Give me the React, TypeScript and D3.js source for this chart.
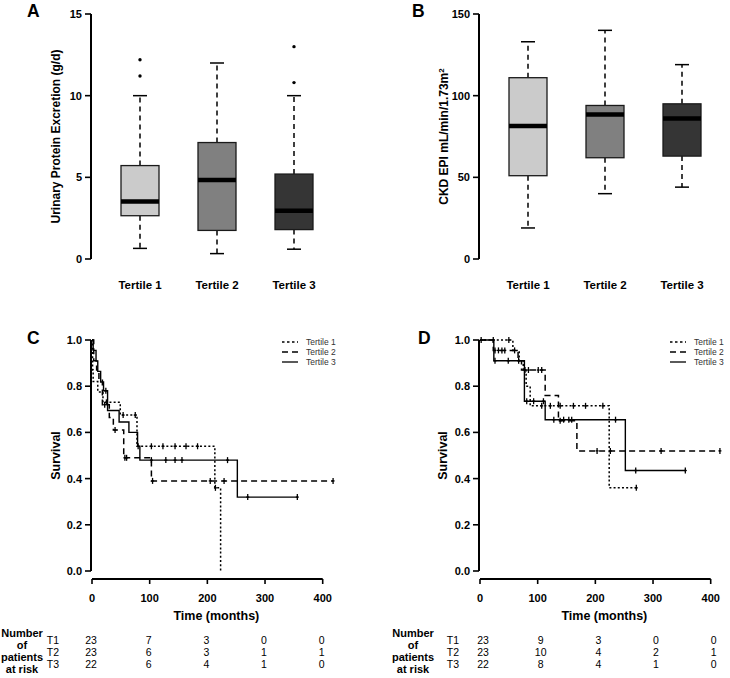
import React from "react";
import * as d3 from "d3";

// ---------- Box plot data ----------
const tertiles = ["Tertile 1", "Tertile 2", "Tertile 3"];
const boxFills = ["#cbcbcb", "#808080", "#353535"];

const upeLow = [0.65, 0.33, 0.6];
const upeQ1 = [2.65, 1.75, 1.8];
const upeMedian = [3.52, 4.84, 2.95];
const upeQ3 = [5.72, 7.13, 5.2];
const upeHigh = [10, 12, 10];
const upeOutliers = [[11.2, 12.2], [], [10.8, 13]];
const upeTicks = [0, 5, 10, 15];

const egfrLow = [19, 40, 44];
const egfrQ1 = [51, 62, 63];
const egfrMedian = [81.5, 88.5, 86];
const egfrQ3 = [111, 94, 95];
const egfrHigh = [133, 140, 119];
const egfrOutliers = [[], [], []];
const egfrTicks = [0, 50, 100, 150];

// ---------- Kaplan-Meier data ----------
const timeTicks = [0, 100, 200, 300, 400];
const survTicks = [0, 0.2, 0.4, 0.6, 0.8, 1.0];
const legendLabels = ["Tertile 1", "Tertile 2", "Tertile 3"];

const kmC_T1_times = [0, 1, 2, 10, 19, 49, 78, 213, 223];
const kmC_T1_surv = [1, 0.87, 0.82, 0.775, 0.73, 0.675, 0.54, 0.36, 0.0];
const kmC_T1_end = 223;
const kmC_T1_censor = [25, 54, 75, 80, 103, 123, 144, 163, 183, 214];

const kmC_T2_times = [0, 3, 8, 12, 18, 30, 37, 55, 103];
const kmC_T2_surv = [1, 0.91, 0.87, 0.83, 0.72, 0.665, 0.61, 0.49, 0.39];
const kmC_T2_end = 418;
const kmC_T2_censor = [22, 40, 57, 60, 105, 205, 229, 418];

const kmC_T3_times = [0, 2, 7, 10, 15, 20, 27, 47, 64, 79, 83, 252];
const kmC_T3_surv = [1, 0.955, 0.909, 0.864, 0.818, 0.78, 0.695, 0.645, 0.6, 0.54, 0.48, 0.32];
const kmC_T3_end = 356;
const kmC_T3_censor = [24, 103, 128, 144, 156, 235, 270, 356];

const kmD_T1_times = [0, 57, 68, 75, 80, 87, 224];
const kmD_T1_surv = [1, 0.955, 0.91, 0.87, 0.8, 0.715, 0.36];
const kmD_T1_end = 272;
const kmD_T1_censor = [50, 60, 107, 122, 139, 162, 183, 213, 271];

const kmD_T2_times = [0, 23, 66, 72, 113, 136, 168];
const kmD_T2_surv = [1, 0.955, 0.91, 0.87, 0.76, 0.65, 0.52];
const kmD_T2_end = 416;
const kmD_T2_censor = [26, 32, 38, 43, 78, 84, 101, 107, 139, 203, 226, 314, 416];

const kmD_T3_times = [0, 24, 77, 113, 252];
const kmD_T3_surv = [1, 0.91, 0.735, 0.655, 0.435];
const kmD_T3_end = 356;
const kmD_T3_censor = [2, 23, 26, 49, 67, 81, 93, 110, 128, 145, 154, 159, 235, 270, 356];

// ---------- Risk tables ----------
const riskRowLabels = ["T1", "T2", "T3"];
const riskC_T1 = [23, 7, 3, 0, 0];
const riskC_T2 = [23, 6, 3, 1, 1];
const riskC_T3 = [22, 6, 4, 1, 0];
const riskD_T1 = [23, 9, 3, 0, 0];
const riskD_T2 = [23, 10, 4, 2, 1];
const riskD_T3 = [22, 8, 4, 1, 0];
const riskHeader = ["Number", "of", "patients", "at risk"];

const FONT = "'Liberation Sans', Arial, Helvetica, sans-serif";
const lineDash = ["2,2.2", "6,4", null];

type BoxProps = {
  x0: number;
  letter: string;
  letterX: number;
  ylabel: React.ReactNode;
  ylabelX: number;
  max: number;
  ticks: number[];
  low: number[];
  q1: number[];
  med: number[];
  q3: number[];
  high: number[];
  outliers: number[][];
};

function BoxPanel(p: BoxProps) {
  const y = d3.scaleLinear().domain([0, p.max]).range([259, 14]);
  const x = d3.scalePoint<string>().domain(tertiles).range([p.x0 + 49, p.x0 + 203]);
  const bw = 38;
  const cw = 14;
  return (
    <g>
      <text x={p.letterX} y={17} fontFamily={FONT} fontWeight="bold" fontSize={17.5}>
        {p.letter}
      </text>
      <line x1={p.x0} x2={p.x0} y1={y(p.max)} y2={y(0)} stroke="#000" strokeWidth={2} />
      {p.ticks.map((t) => (
        <g key={t}>
          <line x1={p.x0 - 6} x2={p.x0} y1={y(t)} y2={y(t)} stroke="#000" strokeWidth={1.6} />
          <text x={p.x0 - 9} y={y(t) + 4} textAnchor="end" fontFamily={FONT} fontWeight="bold" fontSize={11}>
            {t}
          </text>
        </g>
      ))}
      <text
        transform={`translate(${p.ylabelX},${136.5}) rotate(-90)`}
        textAnchor="middle"
        fontFamily={FONT}
        fontWeight="bold"
        fontSize={12}
      >
        {p.ylabel}
      </text>
      {tertiles.map((t, i) => {
        const cx = x(t)!;
        return (
          <g key={t}>
            <line x1={cx} x2={cx} y1={y(p.q3[i])} y2={y(p.high[i])} stroke="#000" strokeWidth={1.5} strokeDasharray="5,4" />
            <line x1={cx} x2={cx} y1={y(p.q1[i])} y2={y(p.low[i])} stroke="#000" strokeWidth={1.5} strokeDasharray="5,4" />
            <line x1={cx - cw / 2} x2={cx + cw / 2} y1={y(p.high[i])} y2={y(p.high[i])} stroke="#000" strokeWidth={1.5} />
            <line x1={cx - cw / 2} x2={cx + cw / 2} y1={y(p.low[i])} y2={y(p.low[i])} stroke="#000" strokeWidth={1.5} />
            <rect
              x={cx - bw / 2}
              y={y(p.q3[i])}
              width={bw}
              height={y(p.q1[i]) - y(p.q3[i])}
              fill={boxFills[i]}
              stroke="#1a1a1a"
              strokeWidth={1.3}
            />
            <line x1={cx - bw / 2} x2={cx + bw / 2} y1={y(p.med[i])} y2={y(p.med[i])} stroke="#000" strokeWidth={4.5} />
            {p.outliers[i].map((o, k) => (
              <circle key={k} cx={cx} cy={y(o)} r={1.7} fill="#000" />
            ))}
            <text x={cx} y={289} textAnchor="middle" fontFamily={FONT} fontWeight="bold" fontSize={11.5}>
              {t}
            </text>
          </g>
        );
      })}
    </g>
  );
}

type Series = { times: number[]; surv: number[]; end: number; censor: number[] };

type KMProps = {
  x0: number;
  letter: string;
  letterX: number;
  ylabelX: number;
  series: Series[];
  legendX: number;
  risk: number[][];
  tableOffset: number;
  numberX: number;
  rowLabelX: number;
};

function KMPanel(p: KMProps) {
  const x = d3.scaleLinear().domain([0, 400]).range([p.x0, p.x0 + 230.7]);
  const y = d3.scaleLinear().domain([0, 1]).range([571, 340]);
  const axX = p.x0 - 1;
  const axY = 579;
  const line = d3
    .line<[number, number]>()
    .x((d) => x(d[0]))
    .y((d) => y(d[1]))
    .curve(d3.curveStepAfter);
  const survAt = (s: Series, t: number) => {
    let v = s.surv[0];
    for (let i = 0; i < s.times.length; i++) if (s.times[i] <= t) v = s.surv[i];
    return v;
  };
  return (
    <g>
      <text x={p.letterX} y={344} fontFamily={FONT} fontWeight="bold" fontSize={17.5}>
        {p.letter}
      </text>
      {/* y axis */}
      <line x1={axX} x2={axX} y1={y(1)} y2={y(0)} stroke="#000" strokeWidth={2} />
      {survTicks.map((t) => (
        <g key={t}>
          <line x1={axX - 6} x2={axX} y1={y(t)} y2={y(t)} stroke="#000" strokeWidth={1.6} />
          <text x={axX - 9} y={y(t) + 4} textAnchor="end" fontFamily={FONT} fontWeight="bold" fontSize={11}>
            {t.toFixed(1)}
          </text>
        </g>
      ))}
      <text
        transform={`translate(${p.ylabelX},${455.5}) rotate(-90)`}
        textAnchor="middle"
        fontFamily={FONT}
        fontWeight="bold"
        fontSize={12.5}
      >
        Survival
      </text>
      {/* x axis */}
      <line x1={x(0)} x2={x(400)} y1={axY} y2={axY} stroke="#000" strokeWidth={2} />
      {timeTicks.map((t) => (
        <g key={t}>
          <line x1={x(t)} x2={x(t)} y1={axY} y2={axY + 5} stroke="#000" strokeWidth={1.6} />
          <text x={x(t)} y={601.5} textAnchor="middle" fontFamily={FONT} fontWeight="bold" fontSize={11}>
            {t}
          </text>
        </g>
      ))}
      <text x={x(200) + 9} y={619.5} textAnchor="middle" fontFamily={FONT} fontWeight="bold" fontSize={12.5}>
        Time (months)
      </text>
      {/* curves */}
      {p.series.map((s, i) => {
        const pts: [number, number][] = s.times.map((t, k) => [t, s.surv[k]] as [number, number]);
        pts.push([s.end, s.surv[s.surv.length - 1]]);
        return (
          <g key={i}>
            <path
              d={line(pts) || ""}
              fill="none"
              stroke="#000"
              strokeWidth={i === 2 ? 1.4 : 1.5}
              strokeDasharray={lineDash[i] || undefined}
            />
            {s.censor.map((c, k) => {
              const v = survAt(s, c);
              return (
                <g key={k}>
                  <line x1={x(c)} x2={x(c)} y1={y(v) - 3} y2={y(v) + 3} stroke="#000" strokeWidth={1.3} />
                  <line x1={x(c) - 1.5} x2={x(c) + 1.5} y1={y(v)} y2={y(v)} stroke="#000" strokeWidth={1.3} />
                </g>
              );
            })}
          </g>
        );
      })}
      {/* legend */}
      {legendLabels.map((l, i) => (
        <g key={l}>
          <line
            x1={p.legendX}
            x2={p.legendX + 16}
            y1={342 + i * 10}
            y2={342 + i * 10}
            stroke="#000"
            strokeWidth={1.3}
            strokeDasharray={i === 0 ? "2.5,2.5" : i === 1 ? "6,4" : undefined}
          />
          <text x={p.legendX + 24} y={345 + i * 10} fontFamily={FONT} fontSize={8.5} fill="#333">
            {l}
          </text>
        </g>
      ))}
      {/* risk table */}
      {riskHeader.map((h, i) => (
        <text
          key={h}
          x={p.numberX}
          y={[637, 648.5, 660.5, 672.5][i]}
          textAnchor="middle"
          fontFamily={FONT}
          fontWeight="bold"
          fontSize={11}
        >
          {h}
        </text>
      ))}
      {riskRowLabels.map((r, i) => (
        <g key={r}>
          <text x={p.rowLabelX} y={644 + i * 12} textAnchor="middle" fontFamily={FONT} fontSize={10.5}>
            {r}
          </text>
          {p.risk[i].map((v, k) => (
            <text
              key={k}
              x={x(timeTicks[k]) + p.tableOffset}
              y={644 + i * 12}
              textAnchor="middle"
              fontFamily={FONT}
              fontSize={10.5}
            >
              {v}
            </text>
          ))}
        </g>
      ))}
    </g>
  );
}

export default function App() {
  const seriesC: Series[] = [
    { times: kmC_T1_times, surv: kmC_T1_surv, end: kmC_T1_end, censor: kmC_T1_censor },
    { times: kmC_T2_times, surv: kmC_T2_surv, end: kmC_T2_end, censor: kmC_T2_censor },
    { times: kmC_T3_times, surv: kmC_T3_surv, end: kmC_T3_end, censor: kmC_T3_censor },
  ];
  const seriesD: Series[] = [
    { times: kmD_T1_times, surv: kmD_T1_surv, end: kmD_T1_end, censor: kmD_T1_censor },
    { times: kmD_T2_times, surv: kmD_T2_surv, end: kmD_T2_end, censor: kmD_T2_censor },
    { times: kmD_T3_times, surv: kmD_T3_surv, end: kmD_T3_end, censor: kmD_T3_censor },
  ];
  return (
    <svg
      width={730}
      height={678}
      style={{ position: "absolute", left: 0, top: 0, background: "#fff" }}
    >
      <rect width={730} height={678} fill="#fff" />
      <BoxPanel
        x0={91}
        letter="A"
        letterX={27}
        ylabel="Urinary Protein Excretion (g/d)"
        ylabelX={60}
        max={15}
        ticks={upeTicks}
        low={upeLow}
        q1={upeQ1}
        med={upeMedian}
        q3={upeQ3}
        high={upeHigh}
        outliers={upeOutliers}
      />
      <BoxPanel
        x0={479}
        letter="B"
        letterX={412}
        ylabel={
          <>
            CKD EPI mL/min/1.73m<tspan fontSize={8} dy={-4}>2</tspan>
          </>
        }
        ylabelX={448}
        max={150}
        ticks={egfrTicks}
        low={egfrLow}
        q1={egfrQ1}
        med={egfrMedian}
        q3={egfrQ3}
        high={egfrHigh}
        outliers={egfrOutliers}
      />
      <KMPanel
        x0={92}
        letter="C"
        letterX={27}
        ylabelX={60}
        series={seriesC}
        legendX={282}
        risk={[riskC_T1, riskC_T2, riskC_T3]}
        tableOffset={-1}
        numberX={22}
        rowLabelX={53}
      />
      <KMPanel
        x0={480}
        letter="D"
        letterX={418}
        ylabelX={447}
        series={seriesD}
        legendX={670}
        risk={[riskD_T1, riskD_T2, riskD_T3]}
        tableOffset={3}
        numberX={413}
        rowLabelX={453}
      />
    </svg>
  );
}
